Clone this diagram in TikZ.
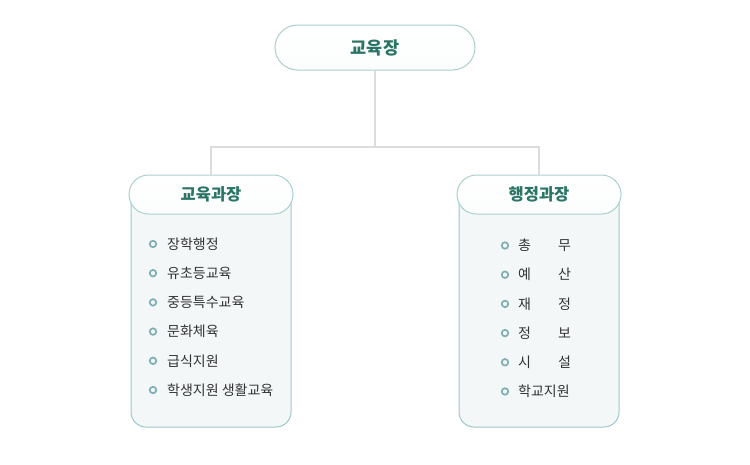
\documentclass[tikz,border=0pt]{standalone}
\usepackage{fontspec}
\newfontfamily\kr{Noto Sans CJK KR}
\begin{document}
\definecolor{titlec}{HTML}{2B7566}
\definecolor{pillline}{HTML}{A9CFCF}
\definecolor{panelline}{HTML}{9CC8C9}
\definecolor{panelfill}{HTML}{F3F7F8}
\definecolor{connc}{HTML}{DCDCDC}
\definecolor{bulletc}{HTML}{7FAFB3}
\definecolor{itemc}{HTML}{333333}
\begin{tikzpicture}[x=1pt,y=-1pt,
  pill/.style={draw=pillline,line width=1pt,top color=white,bottom color=white!90!panelline!40!white,
    rounded corners=#1,inner sep=0pt,text=titlec,font=\kr\bfseries},
  conn/.style={draw=connc,line width=2pt},
  panel/.style={draw=panelline,line width=1pt,fill=panelfill},
  bul/.style={circle,draw=bulletc,line width=1.7pt,minimum size=6.5pt,inner sep=0pt},
  item/.style={anchor=west,inner sep=0pt,text=itemc,font=\kr\fontsize{14}{16}\selectfont}]
\useasboundingbox (0,0) rectangle (750,464);
% panels
\draw[panel] (131,194) -- (131,412) arc[start angle=180,end angle=90,radius=15] -- (276,427) arc[start angle=90,end angle=0,radius=15] -- (291,194);
\draw[panel] (459,194) -- (459,412) arc[start angle=180,end angle=90,radius=15] -- (604,427) arc[start angle=90,end angle=0,radius=15] -- (619,194);
% title nodes
\node[pill=22.5pt,minimum width=200pt,minimum height=45pt,font=\kr\bfseries\fontsize{17.5}{20}\selectfont] (top) at (375,47.5) {교육장};
\node[pill=19.5pt,minimum width=164pt,minimum height=39pt,font=\kr\bfseries\fontsize{16.5}{19}\selectfont] (edu) at (211,194.5) {교육과장};
\node[pill=19.5pt,minimum width=164pt,minimum height=39pt,font=\kr\bfseries\fontsize{16.5}{19}\selectfont] (adm) at (539,194.5) {행정과장};
% connectors
\coordinate (split) at (375,147);
\draw[conn] (top.south) -- (split);
\draw[conn] (split) -| (edu.north);
\draw[conn] (split) -| (adm.north);
% left items
\foreach \t [count=\i] in {장학행정,유초등교육,중등특수교육,문화체육,급식지원,학생지원 생활교육}{
  \node[bul] (lb\i) at (153,{244+29.2*(\i-1)}) {};
  \node[item] (li\i) at (167,{244+29.2*(\i-1)}) {\t};
}
% right items
\foreach \t [count=\i] in {총\hspace*{27pt}무,예\hspace*{27pt}산,재\hspace*{27pt}정,정\hspace*{27pt}보,시\hspace*{27pt}설,학교지원}{
  \node[bul] (rb\i) at (505,{245.5+29.2*(\i-1)}) {};
  \node[item] (ri\i) at (518,{245.5+29.2*(\i-1)}) {\t};
}
\end{tikzpicture}
\end{document}
